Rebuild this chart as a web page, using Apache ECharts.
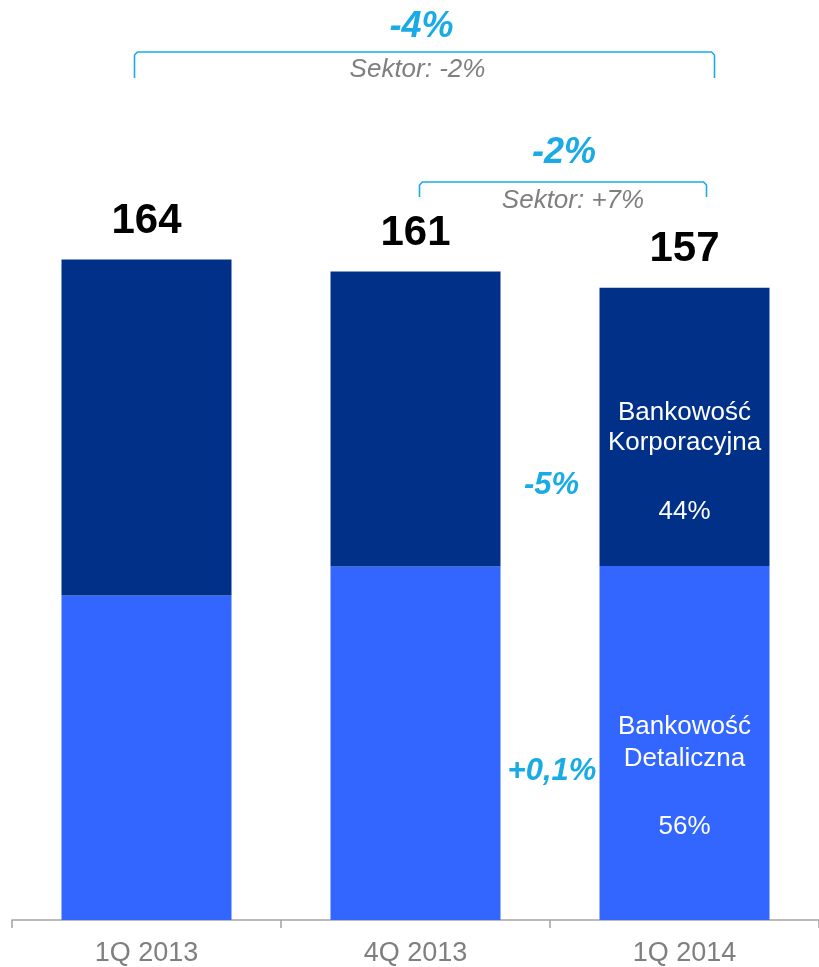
<!DOCTYPE html>
<html><head><meta charset="utf-8">
<script src="https://cdn.jsdelivr.net/npm/echarts@6/dist/echarts.min.js"></script>
<style>html,body{margin:0;padding:0;background:#fff}#c{width:819px;height:967px}</style>
</head><body><div id="c"></div>
<script>
const categories = ['1Q 2013', '4Q 2013', '1Q 2014'];
const retail = [80.6, 87.8, 87.9];
const corporate = [83.4, 73.2, 69.1];
const totals = [164, 161, 157];
const blue = '#1AABE6';
const grey = '#7F7F7F';
const FONT = '"Liberation Sans", Arial, sans-serif';

const chart = echarts.init(document.getElementById('c'), null, {renderer: 'canvas'});
const option = {
  animation: false,
  textStyle: {fontFamily: FONT},
  grid: {left: 12, width: 812, top: 114.5, bottom: 45.5, containLabel: false},
  xAxis: {
    type: 'category', data: categories,
    axisLine: {lineStyle: {color: '#A6A6A6', width: 1.6}},
    axisTick: {show: true, length: 8, lineStyle: {color: '#A6A6A6', width: 1.6}},
    axisLabel: {color: grey, fontSize: 27, fontFamily: FONT, margin: 20}
  },
  yAxis: {type: 'value', min: 0, max: 200, show: false, splitLine: {show: false}},
  series: [
    {
      name: 'Bankowość Detaliczna', type: 'bar', stack: 's', barWidth: 170,
      itemStyle: {color: '#3366FF'},
      data: retail.map((v, i) => i === 2 ? {
        value: v,
        label: {
          show: true, position: 'inside', offset: [0, 34],
          formatter: '{a|Bankowość}\n{a|Detaliczna}\n{g| }\n{a|56%}',
          rich: {a: {color: '#fff', fontSize: 26, lineHeight: 32, fontFamily: FONT},
                 g: {fontSize: 10, lineHeight: 36}}
        }
      } : v)
    },
    {
      name: 'Bankowość Korporacyjna', type: 'bar', stack: 's', barWidth: 170,
      itemStyle: {color: '#003087'},
      data: corporate.map((v, i) => i === 2 ? {
        value: v,
        label: {
          show: true, position: 'inside', offset: [0, 35],
          formatter: '{a|Bankowość}\n{a|Korporacyjna}\n{g| }\n{a|44%}',
          rich: {a: {color: '#fff', fontSize: 26, lineHeight: 30, fontFamily: FONT},
                 g: {fontSize: 10, lineHeight: 39}}
        }
      } : v)
    },
    {
      name: 'Suma', type: 'scatter', symbolSize: 1,
      itemStyle: {color: 'rgba(255,255,255,0)'},
      data: totals,
      label: {show: true, position: 'top', distance: 17, color: '#000000', opacity: 1,
              textBorderWidth: 0, fontSize: 42,
              fontWeight: 'bold', lineHeight: 42, fontFamily: FONT, formatter: p => String(p.value)}
    }
  ]
};
chart.setOption(option);

const cx = c => chart.convertToPixel({xAxisIndex: 0}, c);
const x1 = cx(categories[0]), x2 = cx(categories[1]), x3 = cx(categories[2]);

function bracket(a, b, y, h) {
  return {type: 'polyline', silent: true,
    shape: {points: [[a, y + h], [a, y + 3], [a + 3, y], [b - 3, y], [b, y + 3], [b, y + h]]},
    style: {stroke: blue, lineWidth: 1.6, fill: null}};
}
function txt(x, y, s, size, color, weight) {
  return {type: 'text', silent: true, x: x, y: y,
    style: {text: s, fill: color, fontSize: size, fontWeight: weight || 'normal', fontStyle: 'italic',
            fontFamily: FONT, align: 'center', verticalAlign: 'middle'}};
}
const mid13 = (x1 + x3) / 2;
const mid23 = (x2 + x3) / 2;
chart.setOption({graphic: [
  bracket(x1 - 12, x3 + 30, 52, 26),
  txt(mid13 + 6, 27, '-4%', 36, blue, 'bold'),
  txt(mid13 + 2, 70, 'Sektor: -2%', 26, grey),
  bracket(x2 + 4, x3 + 22, 182, 15),
  txt(mid23 + 14, 153, '-2%', 36, blue, 'bold'),
  txt(mid23 + 23, 201, 'Sektor: +7%', 26, grey),
  txt(mid23 + 1.5, 485, '-5%', 31, blue, 'bold'),
  txt(mid23 + 2, 771, '+0,1%', 31, blue, 'bold')
]});
</script></body></html>
